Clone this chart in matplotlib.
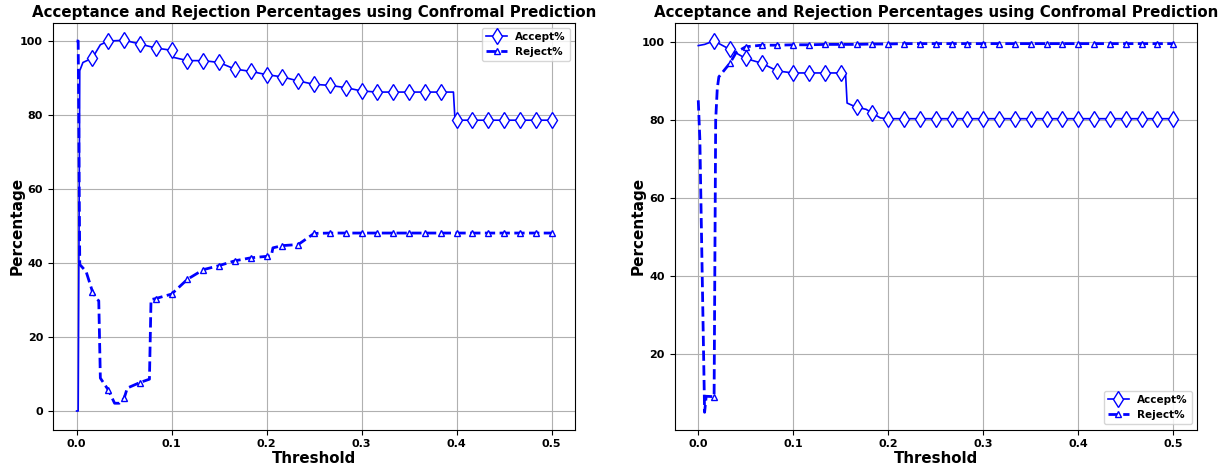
import numpy as np
import matplotlib
matplotlib.use("Agg")
import matplotlib.pyplot as plt

plt.rcParams['font.family'] = ['DejaVu Sans']
plt.rcParams['font.weight'] = 'bold'

# thresholds are expressed in steps of 1/600 (0 .. 300 -> 0.0 .. 0.5)
STEP = 1.0 / 600.0

# ---- left panel ----
left_accept_steps = [0, 1, 2, 4, 10, 15, 20, 30, 40, 50, 60, 61, 70, 80, 90, 100, 110, 120,
                     130, 140, 150, 160, 170, 180, 190, 200, 210, 220, 230, 238, 239, 240,
                     250, 260, 270, 280, 290, 300]
left_accept = [0.0, 0.0, 92.0, 94.2, 95.4, 99.0, 100.0, 100.2, 99.2, 98.1, 97.5, 95.6, 94.7,
               94.7, 94.2, 92.4, 91.8, 90.9, 90.3, 89.2, 88.3, 88.0, 87.4, 86.5, 86.2, 86.2,
               86.2, 86.2, 86.2, 86.2, 78.6, 78.6, 78.6, 78.6, 78.6, 78.6, 78.6, 78.6]

left_reject_steps = [0, 1, 2, 6, 10, 13, 14, 15, 20, 24, 27, 30, 32, 40, 46, 47, 50, 60, 70,
                     80, 90, 100, 110, 120, 123, 124, 130, 140, 146, 150, 160, 170, 180, 190,
                     200, 210, 220, 230, 240, 250, 260, 270, 280, 290, 300]
left_reject = [100.0, 100.0, 39.6, 37.7, 32.3, 30.1, 29.8, 8.9, 5.7, 2.1, 2.1, 3.4, 6.2, 7.7,
               8.6, 30.1, 30.4, 31.6, 35.6, 38.2, 39.3, 40.6, 41.4, 41.8, 42.0, 44.1, 44.7,
               45.0, 46.8, 48.0, 48.1, 48.1, 48.1, 48.1, 48.1, 48.1, 48.1, 48.1, 48.1, 48.1,
               48.1, 48.1, 48.1, 48.1, 48.1]

# ---- right panel ----
right_accept_steps = [0, 4, 10, 20, 30, 40, 50, 60, 70, 80, 90, 93, 94, 100, 106, 110, 115,
                      120, 130, 140, 150, 160, 170, 180, 190, 200, 210, 220, 230, 240, 250,
                      260, 270, 280, 290, 300]
right_accept = [99.0, 99.3, 100.2, 98.0, 95.7, 94.5, 92.5, 92.0, 92.0, 92.0, 92.0, 92.0,
                84.3, 83.2, 82.7, 81.7, 80.5, 80.3, 80.3, 80.3, 80.3, 80.3, 80.3, 80.3, 80.3,
                80.3, 80.3, 80.3, 80.3, 80.3, 80.3, 80.3, 80.3, 80.3, 80.3, 80.3]

right_reject_steps = [0, 1, 4, 5, 10, 11, 12, 13, 20, 24, 30, 40, 50, 60, 70, 80, 90, 100,
                      110, 120, 130, 140, 150, 160, 170, 180, 190, 200, 210, 220, 230, 240,
                      250, 260, 270, 280, 290, 300]
right_reject = [85.0, 75.0, 5.2, 9.3, 9.2, 80.0, 88.0, 91.0, 94.5, 97.3, 98.7, 99.1, 99.1,
                99.2, 99.2, 99.3, 99.3, 99.3, 99.4, 99.4, 99.5, 99.5, 99.5, 99.5, 99.5, 99.5,
                99.5, 99.5, 99.5, 99.5, 99.5, 99.5, 99.5, 99.5, 99.5, 99.5, 99.5, 99.5]

title = "Acceptance and Rejection Percentages using Confromal Prediction"
labels = ["Accept%", "Reject%"]


def marks(steps):
    return [i for i, s in enumerate(steps) if s > 0 and s % 10 == 0]


def draw(ax, a_steps, a_vals, r_steps, r_vals, loc, ylim):
    xa = np.array(a_steps) * STEP
    xr = np.array(r_steps) * STEP
    ax.plot(xa, a_vals, color='blue', lw=1.2, marker='d', ms=8.5, mfc='white',
            mec='blue', mew=1.0, markevery=marks(a_steps), label=labels[0])
    ax.plot(xr, r_vals, color='blue', lw=2.0, ls='--', marker='^', ms=4, mfc='white',
            mec='blue', mew=1.0, markevery=marks(r_steps), label=labels[1])
    ax.set_ylim(*ylim)
    ax.set_xticks([0.0, 0.1, 0.2, 0.3, 0.4, 0.5])
    ax.grid(True, color='#b0b0b0', lw=0.8)
    ax.set_axisbelow(True)
    ax.set_title(title, fontsize=10.8, fontweight='bold', pad=4)
    ax.set_xlabel("Threshold", fontsize=10.8, fontweight='bold', labelpad=1)
    ax.set_ylabel("Percentage", fontsize=11, fontweight='bold', labelpad=-3)
    ax.tick_params(labelsize=8)
    for t in ax.get_xticklabels() + ax.get_yticklabels():
        t.set_fontweight('bold')
    ax.legend(loc=loc, prop={'weight': 'bold', 'size': 7.5})


fig = plt.figure(figsize=(12.32, 4.69), dpi=100)
ax1 = fig.add_axes([0.0429, 0.0842, 0.4241, 0.8678])
ax2 = fig.add_axes([0.5475, 0.0842, 0.4241, 0.8678])

draw(ax1, left_accept_steps, left_accept, left_reject_steps, left_reject,
     'upper right', (-5, 105))
draw(ax2, right_accept_steps, right_accept, right_reject_steps, right_reject,
     'lower right', (0.8, 104.9))

fig.savefig("out.png", dpi=100)
